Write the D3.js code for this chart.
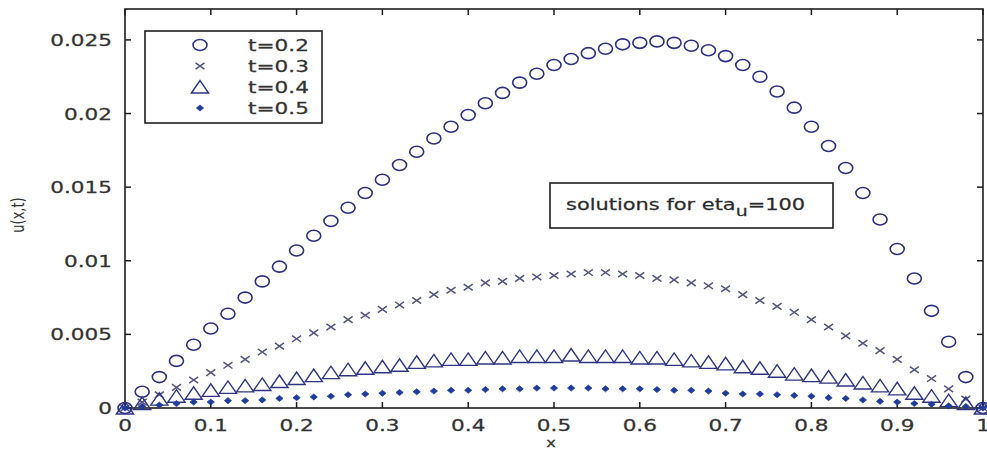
<!DOCTYPE html>
<html>
<head>
<meta charset="utf-8">
<script src="https://cdn.jsdelivr.net/npm/d3@7"></script>
<style>
  body { margin: 0; background: #fff; }
  svg { display: block; font-family: "DejaVu Sans", sans-serif; }
</style>
</head>
<body>
<svg id="chart" width="987" height="450"></svg>
<script>
// grid points
var xs = [0, 0.02, 0.04, 0.06, 0.08, 0.10, 0.12, 0.14, 0.16, 0.18,
          0.20, 0.22, 0.24, 0.26, 0.28, 0.30, 0.32, 0.34, 0.36, 0.38,
          0.40, 0.42, 0.44, 0.46, 0.48, 0.50, 0.52, 0.54, 0.56, 0.58,
          0.60, 0.62, 0.64, 0.66, 0.68, 0.70, 0.72, 0.74, 0.76, 0.78,
          0.80, 0.82, 0.84, 0.86, 0.88, 0.90, 0.92, 0.94, 0.96, 0.98, 1.00];

var u02 = [0, 0.0011, 0.0021, 0.0032, 0.0043, 0.0054, 0.0064, 0.0075, 0.0086, 0.0096,
           0.0107, 0.0117, 0.0127, 0.0136, 0.0146, 0.0155, 0.0165, 0.0174, 0.0183, 0.0191,
           0.0199, 0.0207, 0.0214, 0.0221, 0.0227, 0.0233, 0.0237, 0.0241, 0.0244, 0.0247,
           0.0248, 0.0249, 0.0248, 0.0246, 0.0243, 0.0239, 0.0233, 0.0225, 0.0215, 0.0204,
           0.0191, 0.0178, 0.0163, 0.0146, 0.0128, 0.0108, 0.0088, 0.0066, 0.0045, 0.0021, 0];

var u03 = [0, 0.0004, 0.0009, 0.0014, 0.0019, 0.0024, 0.0029, 0.0033, 0.0038, 0.0042,
           0.0047, 0.0051, 0.0055, 0.0060, 0.0063, 0.0067, 0.0070, 0.0073, 0.0077, 0.0080,
           0.0082, 0.0085, 0.0086, 0.0088, 0.0089, 0.0090, 0.0091, 0.0092, 0.0092, 0.0091,
           0.0090, 0.0088, 0.0087, 0.0085, 0.0083, 0.0081, 0.0077, 0.0073, 0.0069, 0.0065,
           0.0060, 0.0055, 0.0049, 0.0044, 0.0039, 0.0033, 0.0026, 0.0020, 0.0013, 0.0006, 0];

var u04 = [0, 0.0003, 0.0006, 0.0008, 0.0010, 0.0012, 0.0014, 0.0015, 0.0016, 0.0018,
           0.0020, 0.0022, 0.0024, 0.0026, 0.0027, 0.0028, 0.0029, 0.0031, 0.0032, 0.0033,
           0.0033, 0.0034, 0.0034, 0.0035, 0.0035, 0.0035, 0.0036, 0.0035, 0.0035, 0.0035,
           0.0034, 0.0034, 0.0033, 0.0032, 0.0031, 0.0030, 0.0028, 0.0027, 0.0025, 0.0023,
           0.0022, 0.0021, 0.0019, 0.0017, 0.0015, 0.0013, 0.0010, 0.0008, 0.0005, 0.0003, 0];

var u05 = [0, 0.0001, 0.0002, 0.0003, 0.0004, 0.0004, 0.0005, 0.0005, 0.00055, 0.00065,
           0.0007, 0.00075, 0.0008, 0.0009, 0.00095, 0.0010, 0.00105, 0.0011, 0.00115, 0.0012,
           0.0012, 0.00125, 0.0013, 0.0013, 0.00135, 0.00135, 0.00135, 0.00135, 0.0013, 0.0013,
           0.0013, 0.00125, 0.0012, 0.0012, 0.00115, 0.0010, 0.00095, 0.00095, 0.0009, 0.00085,
           0.0008, 0.0007, 0.00065, 0.00055, 0.00045, 0.0004, 0.0003, 0.00025, 0.00015, 0.0001, 0];

var legendLabels = ["t=0.2", "t=0.3", "t=0.4", "t=0.5"];
var xTicks = [0, 0.1, 0.2, 0.3, 0.4, 0.5, 0.6, 0.7, 0.8, 0.9, 1];
var yTicks = [0, 0.005, 0.01, 0.015, 0.02, 0.025];

(function() {
  var svg = d3.select("#chart");
  var pl = 125, pr = 983, pt = 9, pb = 408;

  var x = d3.scaleLinear().domain([0, 1]).range([pl, pr]);
  var y = d3.scaleLinear().domain([0, 0.0271]).range([pb, pt]);

  var tickColor = "#1e1e1e";
  var labelColor = "#333";
  var stretch = 1.35;

  // the source picture is wider than tall, so text gets a horizontal stretch
  function wideText(g, tx, ty, anchor, size, str) {
    return g.append("text")
      .attr("transform", "translate(" + tx + "," + ty + ") scale(" + stretch + ",1)")
      .attr("text-anchor", anchor)
      .attr("font-size", size)
      .attr("fill", labelColor)
      .attr("stroke", labelColor)
      .attr("stroke-width", 0.25)
      .text(str);
  }

  var markers = [
    { vals: u02, color: "#2d2f82", draw: function(g) {
        g.append("ellipse").attr("rx", 7).attr("ry", 5.5)
          .attr("fill", "none").attr("stroke", this.color).attr("stroke-width", 1.6);
    }},
    { vals: u03, color: "#52537e", draw: function(g) {
        g.append("path").attr("d", "M-4.5,-3.2L4.5,3.2M-4.5,3.2L4.5,-3.2")
          .attr("stroke", this.color).attr("stroke-width", 1.5).attr("fill", "none");
    }},
    { vals: u04, color: "#2f3583", draw: function(g) {
        g.append("path").attr("d", "M-8.6,6L0,-6.5L8.6,6Z")
          .attr("fill", "none").attr("stroke", this.color).attr("stroke-width", 1.4);
    }},
    { vals: u05, color: "#1f3c9c", draw: function(g) {
        g.append("path").attr("d", "M0,-3L3.6,0L0,3L-3.6,0Z")
          .attr("fill", this.color).attr("stroke", this.color).attr("stroke-width", 0.8);
    }}
  ];

  // axes box
  svg.append("rect")
    .attr("x", pl).attr("y", pt)
    .attr("width", pr - pl).attr("height", pb - pt)
    .attr("fill", "none").attr("stroke", tickColor).attr("stroke-width", 1.6);

  var tickLen = 6;
  var gx = svg.append("g");
  xTicks.forEach(function(t) {
    gx.append("line").attr("x1", x(t)).attr("x2", x(t)).attr("y1", pb).attr("y2", pb - tickLen)
      .attr("stroke", tickColor).attr("stroke-width", 1.5);
    gx.append("line").attr("x1", x(t)).attr("x2", x(t)).attr("y1", pt).attr("y2", pt + tickLen)
      .attr("stroke", tickColor).attr("stroke-width", 1.5);
    wideText(gx, x(t), pb + 23, "middle", 16, String(t));
  });

  var gy = svg.append("g");
  yTicks.forEach(function(t) {
    gy.append("line").attr("x1", pl).attr("x2", pl + tickLen).attr("y1", y(t)).attr("y2", y(t))
      .attr("stroke", tickColor).attr("stroke-width", 1.5);
    gy.append("line").attr("x1", pr).attr("x2", pr - tickLen).attr("y1", y(t)).attr("y2", y(t))
      .attr("stroke", tickColor).attr("stroke-width", 1.5);
    wideText(gy, pl - 13, y(t) + 6, "end", 16, String(t));
  });

  // axis labels
  wideText(svg, (pl + pr) / 2 - 3, 447, "middle", 12, "x");
  svg.append("text")
    .attr("transform", "translate(24," + 215 + ") rotate(-90) scale(1,1.35)")
    .attr("text-anchor", "middle").attr("font-size", 13).attr("fill", labelColor).text("u(x,t)");

  // series
  markers.forEach(function(m) {
    var g = svg.append("g");
    g.selectAll("g")
      .data(xs.map(function(xv, i) { return [xv, m.vals[i]]; }))
      .enter()
      .append("g")
        .attr("transform", function(d) { return "translate(" + x(d[0]) + "," + y(d[1]) + ")"; })
        .each(function() { m.draw.call(m, d3.select(this)); });
  });

  // legend
  var lg = svg.append("g");
  lg.append("rect").attr("x", 145).attr("y", 31).attr("width", 177).attr("height", 92)
    .attr("fill", "#fff").attr("stroke", tickColor).attr("stroke-width", 1.6);
  legendLabels.forEach(function(lab, i) {
    var cy = 45 + i * 21;
    var mg = lg.append("g").attr("transform", "translate(200," + cy + ")");
    markers[i].draw.call(markers[i], mg);
    wideText(lg, 248, cy + 6, "start", 16, lab);
  });

  // annotation
  var ag = svg.append("g");
  ag.append("rect").attr("x", 550).attr("y", 183).attr("width", 283).attr("height", 45)
    .attr("fill", "#fff").attr("stroke", tickColor).attr("stroke-width", 1.6);
  var at = wideText(ag, 566, 210, "start", 15.5, null).attr("fill", "#2a2a2a");
  at.append("tspan").text("solutions for eta");
  at.append("tspan").attr("dy", 6).attr("font-size", 14).text("u");
  at.append("tspan").attr("dy", -6).text("=100");
})();
</script>
</body>
</html>
